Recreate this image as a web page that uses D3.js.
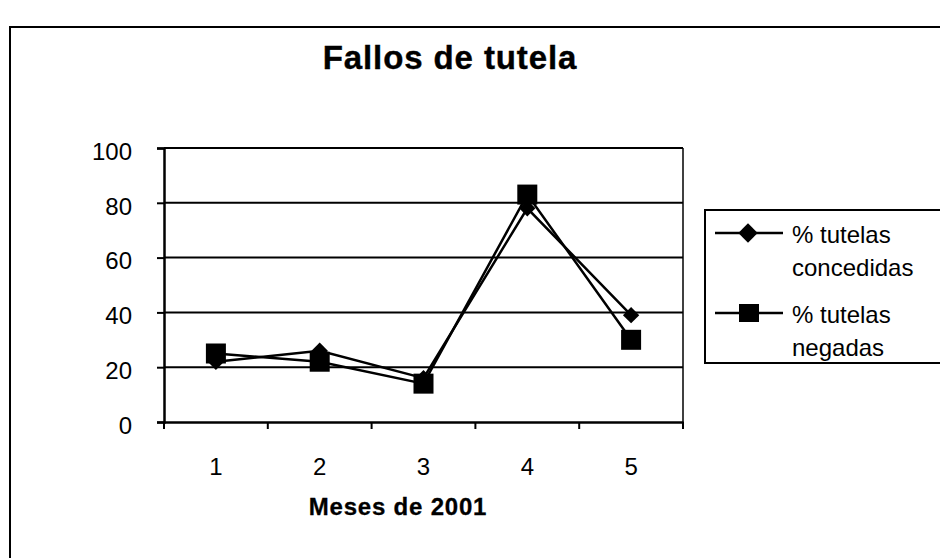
<!DOCTYPE html>
<html><head><meta charset="utf-8">
<script src="https://cdn.jsdelivr.net/npm/d3@7"></script>
<style>body{margin:0;background:#fff}svg{display:block}</style>
</head><body>
<svg id="c" width="940" height="558"></svg>
<script>
const months = ["1","2","3","4","5"];
const concedidas = [22, 26, 16, 78, 39];
const negadas = [25, 22, 14, 83, 30];
const yTicks = [0, 20, 40, 60, 80, 100];
const seriesNames = ["% tutelas concedidas", "% tutelas negadas"];

const svg = d3.select("#c");
const font = "Arial, 'Liberation Sans', sans-serif";
const m = {l:164, r:683, t:148, b:422};

// outer frame
svg.append("path").attr("d","M10,558 L10,27 L940,27").attr("fill","none").attr("stroke","#000").attr("stroke-width",2);

svg.append("text").attr("x",450).attr("y",69).attr("text-anchor","middle")
  .attr("font-family",font).attr("font-weight","bold").attr("font-size",33).attr("letter-spacing",0.9)
  .attr("stroke","#000").attr("stroke-width",0.4).text("Fallos de tutela");

const x = d3.scaleBand().domain(months).range([m.l, m.r]);
const y = d3.scaleLinear().domain([0,100]).range([m.b, m.t]);

// gridlines
svg.append("g").selectAll("line").data(yTicks.filter(d=>d>0)).join("line")
  .attr("x1",m.l).attr("x2",m.r).attr("y1",d=>y(d)).attr("y2",d=>y(d))
  .attr("stroke","#000").attr("stroke-width",2);
// right border
svg.append("line").attr("x1",m.r).attr("x2",m.r).attr("y1",m.t).attr("y2",m.b).attr("stroke","#000").attr("stroke-width",1.5);

// y axis
const ya = svg.append("g").attr("transform",`translate(${m.l},0)`)
  .call(d3.axisLeft(y).tickValues(yTicks).tickSize(7).tickPadding(25));
ya.select(".domain").attr("stroke-width",2.5);
ya.selectAll("line").attr("stroke-width",2);
ya.selectAll("text").attr("font-family",font).attr("font-size",24).attr("fill","#000").attr("dy","0.47em");

// x axis
const xa = svg.append("g").attr("transform",`translate(0,${m.b})`)
  .call(d3.axisBottom(x).tickSize(0).tickPadding(36));
xa.select(".domain").attr("stroke-width",2.5);
xa.selectAll("text").attr("font-family",font).attr("font-size",24).attr("fill","#000");
// boundary ticks between categories
const bounds = months.map(d=>x(d)).concat([m.r]);
xa.append("g").selectAll("line").data(bounds).join("line")
  .attr("x1",d=>d).attr("x2",d=>d).attr("y1",0).attr("y2",7).attr("stroke","#000").attr("stroke-width",2);

svg.append("text").attr("x",398).attr("y",515).attr("text-anchor","middle")
  .attr("font-family",font).attr("font-weight","bold").attr("font-size",24).attr("letter-spacing",0.8)
  .attr("stroke","#000").attr("stroke-width",0.3).text("Meses de 2001");

const cx = d => x(d) + x.bandwidth()/2;
const line = d3.line().x((d,i)=>cx(months[i])).y(d=>y(d));
svg.append("path").datum(concedidas).attr("d",line).attr("fill","none").attr("stroke","#000").attr("stroke-width",2.5);
svg.append("path").datum(negadas).attr("d",line).attr("fill","none").attr("stroke","#000").attr("stroke-width",2.5);

const diamond = d3.symbol().type(d3.symbolDiamond2).size(170);
const diamondL = d3.symbol().type(d3.symbolDiamond2).size(240);
svg.append("g").selectAll("path").data(concedidas).join("path")
  .attr("d",diamond).attr("transform",(d,i)=>`translate(${cx(months[i])},${y(d)})`).attr("fill","#000");
svg.append("g").selectAll("rect").data(negadas).join("rect")
  .attr("x",(d,i)=>cx(months[i])-10).attr("y",d=>y(d)-10).attr("width",20).attr("height",20).attr("fill","#000");

// legend
const lg = svg.append("g");
lg.append("rect").attr("x",705).attr("y",210).attr("width",240).attr("height",153).attr("fill","none").attr("stroke","#000").attr("stroke-width",2);
const legY = [233, 313];
const lines2 = [["% tutelas","concedidas"],["% tutelas","negadas"]];
legY.forEach((ly,i)=>{
  lg.append("line").attr("x1",715).attr("x2",783).attr("y1",ly).attr("y2",ly).attr("stroke","#000").attr("stroke-width",2.5);
  if(i===0) lg.append("path").attr("d",diamondL).attr("transform",`translate(748,${ly})`).attr("fill","#000");
  else lg.append("rect").attr("x",739).attr("y",ly-9).attr("width",20).attr("height",18).attr("fill","#000");
  lg.append("text").attr("x",792).attr("y",ly+10).attr("font-family",font).attr("font-size",24).text(lines2[i][0]);
  lg.append("text").attr("x",792).attr("y",ly+43).attr("font-family",font).attr("font-size",24).text(lines2[i][1]);
});
</script>
</body></html>
